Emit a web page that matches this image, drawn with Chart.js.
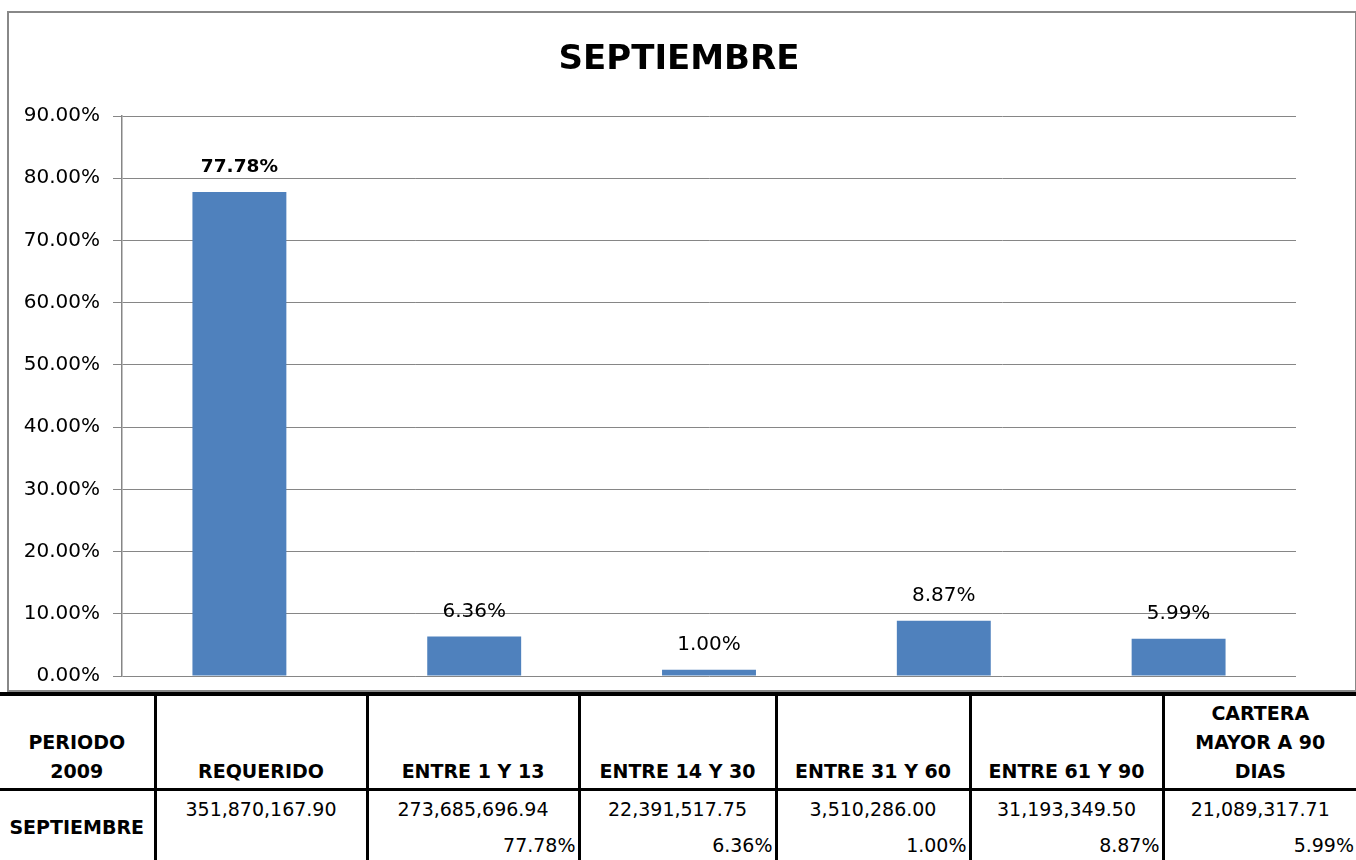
<!DOCTYPE html>
<html>
<head>
<meta charset="utf-8">
<script src="https://cdn.jsdelivr.net/npm/chart.js@4.4.1/dist/chart.umd.min.js"></script>
<style>
  body { margin: 0; width: 1356px; height: 860px; overflow: hidden; background: #fff; font-family: "DejaVu Sans", sans-serif; }
  #frame { position: absolute; left: 7px; top: 11px; width: 1346px; height: 677px; border: 2px solid #888; overflow: hidden; }
  #frame canvas { display: block; }
  #tabla { position: absolute; left: 0; top: 692px; border-collapse: collapse; table-layout: fixed; width: 1356px; }
  #tabla td { border: 3px solid #000; padding: 0; font-size: 19px; color: #000; }
  #tabla tr:first-child td { border-top-width: 4px; }
  #tabla td:first-child { border-left: none; }
  #tabla td:last-child { border-right: none; }
  .head td { height: 90px; vertical-align: bottom; text-align: center; font-weight: bold; line-height: 29px; padding-bottom: 2px !important; }
  .data td { height: 72px; vertical-align: top; }
  .data td.label { vertical-align: middle; text-align: center; font-weight: bold; }
  .amt { height: 36px; line-height: 36px; text-align: center; }
  .pct { height: 36px; line-height: 36px; text-align: right; padding-right: 2px; }
</style>
</head>
<body>
<div id="frame"><canvas id="chart" width="1346" height="688"></canvas></div>
<table id="tabla">
  <colgroup>
    <col style="width:155px"><col style="width:212px"><col style="width:212px"><col style="width:197px"><col style="width:194px"><col style="width:193px"><col style="width:193px">
  </colgroup>
  <tr class="head" id="headRow"></tr>
  <tr class="data" id="dataRow"></tr>
</table>
<script>
const chartTitle = 'SEPTIEMBRE';
const categories = ['ENTRE 1 Y 13', 'ENTRE 14 Y 30', 'ENTRE 31 Y 60', 'ENTRE 61 Y 90', 'CARTERA MAYOR A 90 DIAS'];
const percents = [77.78, 6.36, 1.00, 8.87, 5.99];
const tableHeaders = ['PERIODO<br>2009', 'REQUERIDO', 'ENTRE 1 Y 13', 'ENTRE 14 Y 30', 'ENTRE 31 Y 60', 'ENTRE 61 Y 90', 'CARTERA<br>MAYOR A 90<br>DIAS'];
const rowLabel = 'SEPTIEMBRE';
const amounts = [351870167.90, 273685696.94, 22391517.75, 3510286.00, 31193349.50, 21089317.71];
const yTicks = [0, 10, 20, 30, 40, 50, 60, 70, 80, 90];

const fontFamily = '"DejaVu Sans", sans-serif';

// table under the chart
const headRow = document.getElementById('headRow');
tableHeaders.forEach(h => {
  const td = document.createElement('td');
  td.innerHTML = h;
  headRow.appendChild(td);
});
const dataRow = document.getElementById('dataRow');
const labelCell = document.createElement('td');
labelCell.className = 'label';
labelCell.textContent = rowLabel;
dataRow.appendChild(labelCell);
amounts.forEach((a, i) => {
  const td = document.createElement('td');
  const fmt = a.toLocaleString('en-US', { minimumFractionDigits: 2, maximumFractionDigits: 2 });
  // percentages sit one column to the right of the total, as in the source sheet
  const pct = i > 0 ? percents[i - 1].toFixed(2) + '%' : '';
  td.innerHTML = `<div class="amt">${fmt}</div><div class="pct">${pct}</div>`;
  dataRow.appendChild(td);
});

const barLabels = {
  id: 'barLabels',
  afterDatasetsDraw(chart) {
    const ctx = chart.ctx;
    const meta = chart.getDatasetMeta(0);
    ctx.save();
    ctx.fillStyle = '#000';
    ctx.textAlign = 'center';
    ctx.textBaseline = 'middle';
    meta.data.forEach((bar, i) => {
      ctx.font = (i === 0 ? 'bold 18.5px ' : '20px ') + fontFamily;
      ctx.fillText(percents[i].toFixed(2) + '%', bar.x, bar.y - 25);
    });
    ctx.restore();
  }
};

// title centred on the whole frame, not on the padded box
const frameTitle = {
  id: 'frameTitle',
  afterDraw(chart) {
    const ctx = chart.ctx;
    ctx.save();
    ctx.fillStyle = '#000';
    ctx.textAlign = 'center';
    ctx.textBaseline = 'alphabetic';
    ctx.font = 'bold 34px ' + fontFamily;
    ctx.fillText(chartTitle, 670, 56);
    ctx.restore();
  }
};

new Chart(document.getElementById('chart'), {
  type: 'bar',
  data: {
    labels: categories,
    datasets: [{
      data: percents,
      backgroundColor: '#4F81BD',
      barPercentage: 0.4,
      categoryPercentage: 1.0
    }]
  },
  options: {
    responsive: false,
    animation: false,
    layout: { padding: { left: 0, right: 59, top: 103, bottom: 3 } },
    plugins: {
      legend: { display: false },
      tooltip: { enabled: false },
      title: { display: false }
    },
    scales: {
      x: { display: false },
      y: {
        min: 0,
        max: 90,
        afterFit(scale) { scale.width = 113; },
        afterBuildTicks(scale) { scale.ticks = yTicks.map(v => ({ value: v })); },
        ticks: {
          color: '#000',
          padding: 13,
          font: { family: fontFamily, size: 20 },
          callback: v => v.toFixed(2) + '%'
        },
        grid: { color: '#868686', lineWidth: 1, tickLength: 9 },
        border: { color: '#868686', width: 1.5 }
      }
    }
  },
  plugins: [barLabels, frameTitle]
});
</script>
</body>
</html>
